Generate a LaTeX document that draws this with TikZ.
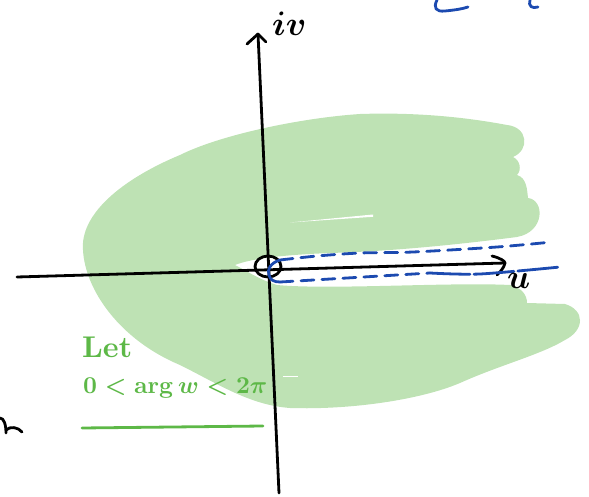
\documentclass[tikz,border=0pt]{standalone}
\usepackage{graphicx}
\usepackage{amsmath}
\usetikzlibrary{shapes.geometric}
\definecolor{blobgreen}{HTML}{BEE2B4}
\definecolor{inkgreen}{HTML}{5DB847}
\definecolor{inkblue}{HTML}{1C4AB0}
\begin{document}
\begin{tikzpicture}[x=1pt,y=-1pt,
  ink/.style={line width=2.8pt,line cap=round,line join=round},
  blueink/.style={ink,draw=inkblue},
  bluedash/.style={blueink,dash pattern=on 13pt off 8pt},
  greenink/.style={ink,draw=inkgreen},
  greentext/.style={text=inkgreen,inner sep=0pt,anchor=base west},
  blacktext/.style={inner sep=0pt,anchor=base west}]
\useasboundingbox (0,0) rectangle (589,497);
% green region with slit along positive real axis
\fill[blobgreen] (235,265)
 .. controls (250,259) and (280,255) .. (330,253)
 .. controls (400,251) and (470,243) .. (517,237)
 .. controls (545,232) and (545,200) .. (528,198)
 .. controls (527,190) and (527,178) .. (517,175)
 .. controls (522,170) and (520,160) .. (513,157)
 .. controls (530,150) and (528,127) .. (507,125)
 .. controls (470,118) and (420,112) .. (360,114)
 .. controls (300,118) and (220,135) .. (180,155)
 .. controls (120,180) and (80,215) .. (83,250)
 .. controls (85,290) and (120,340) .. (180,365)
 .. controls (220,385) and (250,405) .. (290,408)
 .. controls (350,410) and (420,400) .. (460,383)
 .. controls (500,365) and (540,355) .. (565,340)
 .. controls (585,330) and (585,310) .. (565,304)
 -- (527,303)
 .. controls (527,295) and (522,288) .. (510,285)
 .. controls (450,282) and (330,290) .. (277,285)
 .. controls (260,280) and (245,270) .. (235,265) -- cycle;
\fill[white] (290,222.5) -- (373,214.5) -- (373,216.8) -- cycle;
\draw[white,line width=0.6pt] (283,376) -- (298,376);
% axes
\coordinate (xl) at (17,277);
\coordinate (xr) at (505,263);
\coordinate (yb) at (279,493);
\coordinate (yt) at (258,34);
\draw[ink] (xl) -- (xr);
\draw[ink] (492,256) .. controls (500,258) and (505,261) .. (xr)
  .. controls (504,268) and (500,272) .. (497,275);
\draw[ink] (yb) -- (yt);
\draw[ink] (247,44) -- (yt) -- (266,42);
% small circle at origin
\node[ink,draw,ellipse,minimum width=26pt,minimum height=21pt,inner sep=0pt] (o) at (268,266.5) {};
% blue contour
\coordinate (ua) at (280,260);
\coordinate (la) at (280,282);
\draw[blueink] (ua) .. controls (270,263) and (267,270) .. (269,275)
  .. controls (270,280) and (274,282) .. (la);
\draw[bluedash] plot[smooth] coordinates {(ua) (317,256) (360,253) (413,252) (497,247) (552,242)};
\draw[bluedash] plot[smooth] coordinates {(la) (347,278) (430,273)};
\draw[blueink,dash pattern=on 40pt off 4pt] plot[smooth] coordinates {(430,273) (480,274) (560,267)};
% labels
\node[blacktext] (iv) at (272,36) {\scalebox{3.4}{\boldmath$iv$}};
\node[blacktext] (u) at (507,288) {\scalebox{3.4}{\boldmath$u$}};
\node[greentext] (let) at (82,357) {\scalebox{3.0}{\bfseries Let}};
\node[greentext] (cond) at (83,393) {\scalebox{2.42}{\boldmath$0<\arg w<2\pi$}};
\coordinate (ul1) at (82,428);
\coordinate (ul2) at (263,426);
\draw[greenink] (ul1) -- (ul2);
% cut-off fragments at the edges
\draw[blueink] (437,0) .. controls (433,8) and (436,12) .. (445,11)
  .. controls (455,10) and (462,9) .. (468,7);
\draw[blueink] (530,0) .. controls (528,6) and (532,9) .. (538,7);
\draw[ink] (0,418) .. controls (4,418) and (6,425) .. (6,433);
\draw[ink] (6,430) .. controls (10,426) and (18,427) .. (22,432);
\end{tikzpicture}
\end{document}
